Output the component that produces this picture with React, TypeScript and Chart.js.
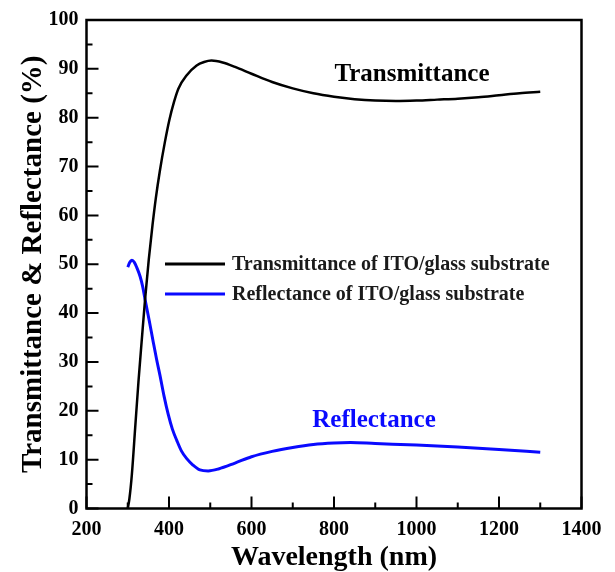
import React, { useEffect, useRef } from "react";
import { Chart, registerables } from "chart.js";

Chart.register(...registerables);

// ---- data ----
const transWavelengths = [300, 304, 310, 318, 326, 334, 342, 351, 360, 368, 378, 390, 401, 412, 423, 443, 467, 485, 503, 530, 560, 600, 650, 700, 750, 800, 850, 900, 950, 1000, 1050, 1100, 1150, 1200, 1250, 1300];
const transValues = [0, 2, 7, 16.5, 26, 34.5, 42.8, 51, 58, 63.5, 69.2, 75, 79.6, 83.2, 86, 88.7, 90.7, 91.4, 91.7, 91.3, 90.4, 89.0, 87.3, 86.0, 85.0, 84.3, 83.8, 83.5, 83.4, 83.5, 83.7, 83.9, 84.2, 84.6, 85.0, 85.3];

const reflWavelengths = [300, 305, 310, 316, 322, 330, 336, 342, 352, 362, 370, 378, 388, 398, 408, 419, 430, 443, 458, 475, 495, 520, 560, 600, 650, 700, 750, 800, 840, 900, 1000, 1100, 1200, 1300];
const reflValues = [49.4, 50.4, 50.8, 50.4, 49.3, 47.5, 45.5, 42.8, 38.5, 34, 30.5, 27.3, 23, 19.3, 16.3, 13.9, 11.8, 10.2, 8.9, 7.9, 7.7, 8.1, 9.3, 10.6, 11.7, 12.5, 13.1, 13.4, 13.5, 13.3, 13.0, 12.6, 12.1, 11.5];

const seriesLabels = ["Transmittance of ITO/glass substrate", "Reflectance of ITO/glass substrate"];
const seriesColors = ["#000000", "#0a0aff"];

const xRange = [200, 1400];
const xStep = 200;
const yRange = [0, 100];
const yStep = 10;

const annotationTexts = ["Transmittance", "Reflectance"];
const annotationX = [989, 897];
const annotationY = [87.6, 16.7];

const FONT = "'Liberation Serif', 'Times New Roman', serif";

const framePlugin = {
  id: "frameTicks",
  afterDatasetsDraw(chart: any) {
    const { ctx, chartArea, scales } = chart;
    const { left, right, top, bottom } = chartArea;
    const x = scales.x;
    const y = scales.y;
    ctx.save();
    ctx.strokeStyle = "#000";
    ctx.lineWidth = 2;
    ctx.lineCap = "butt";
    const xv = x.ticks.map((t: any) => t.value);
    const yv = y.ticks.map((t: any) => t.value);
    ctx.beginPath();
    xv.forEach((v: number) => {
      const p = x.getPixelForValue(v);
      ctx.moveTo(p, bottom);
      ctx.lineTo(p, bottom - 12);
    });
    for (let i = 0; i < xv.length - 1; i++) {
      const p = x.getPixelForValue((xv[i] + xv[i + 1]) / 2);
      ctx.moveTo(p, bottom);
      ctx.lineTo(p, bottom - 6);
    }
    yv.forEach((v: number) => {
      const p = y.getPixelForValue(v);
      ctx.moveTo(left, p);
      ctx.lineTo(left + 12, p);
    });
    for (let i = 0; i < yv.length - 1; i++) {
      const p = y.getPixelForValue((yv[i] + yv[i + 1]) / 2);
      ctx.moveTo(left, p);
      ctx.lineTo(left + 6, p);
    }
    ctx.stroke();
    ctx.lineWidth = 2.5;
    ctx.strokeRect(left, top, right - left, bottom - top);
    ctx.restore();
  },
  afterDraw(chart: any) {
    const { ctx, scales } = chart;
    ctx.save();
    // legend
    const lx0 = 165, lx1 = 225, ly0 = 264, dy = 30;
    chart.data.datasets.forEach((ds: any, i: number) => {
      const yy = ly0 + i * dy;
      ctx.strokeStyle = ds.borderColor;
      ctx.lineWidth = 3;
      ctx.beginPath();
      ctx.moveTo(lx0, yy);
      ctx.lineTo(lx1, yy);
      ctx.stroke();
      ctx.fillStyle = "#1a1a1a";
      ctx.font = `bold 20px ${FONT}`;
      ctx.textAlign = "left";
      ctx.textBaseline = "middle";
      ctx.fillText(ds.label, 232, yy + 1);
    });
    // annotations
    annotationTexts.forEach((t, i) => {
      ctx.fillStyle = seriesColors[i];
      ctx.font = `bold 25px ${FONT}`;
      ctx.textAlign = "center";
      ctx.textBaseline = "alphabetic";
      ctx.fillText(t, scales.x.getPixelForValue(annotationX[i]), scales.y.getPixelForValue(annotationY[i]));
    });
    ctx.restore();
  },
};

export default function App() {
  const ref = useRef<HTMLCanvasElement | null>(null);
  useEffect(() => {
    if (!ref.current) return;
    const chart = new Chart(ref.current, {
      type: "line",
      data: {
        datasets: [
          {
            label: seriesLabels[0],
            data: transWavelengths.map((w, i) => ({ x: w, y: transValues[i] })),
            borderColor: seriesColors[0],
            borderWidth: 2.5,
            pointRadius: 0,
            cubicInterpolationMode: "monotone",
            fill: false,
          },
          {
            label: seriesLabels[1],
            data: reflWavelengths.map((w, i) => ({ x: w, y: reflValues[i] })),
            borderColor: seriesColors[1],
            borderWidth: 3,
            pointRadius: 0,
            cubicInterpolationMode: "monotone",
            fill: false,
          },
        ],
      },
      options: {
        animation: false,
        responsive: false,
        layout: { padding: { left: 0, top: 14, right: 33.5, bottom: 0 } },
        plugins: { legend: { display: false }, tooltip: { enabled: false }, title: { display: false } },
        scales: {
          x: {
            type: "linear",
            min: xRange[0],
            max: xRange[1],
            grid: { display: false, drawTicks: false },
            border: { display: false },
            ticks: { stepSize: xStep, color: "#000", font: { family: FONT, size: 20, weight: "bold" }, padding: 9, maxRotation: 0, callback: (v: any) => String(v) },
            title: { display: true, text: "Wavelength (nm)", color: "#000", font: { family: FONT, size: 28, weight: "bold", lineHeight: 1 }, padding: { top: 0, bottom: 0 } },
            afterFit: (s: any) => { s.height = 63.5; },
          },
          y: {
            type: "linear",
            min: yRange[0],
            max: yRange[1],
            grid: { display: false, drawTicks: false },
            border: { display: false },
            ticks: { stepSize: yStep, color: "#000", font: { family: FONT, size: 20, weight: "bold" }, padding: 8, callback: (v: any) => String(v) },
            title: { display: true, text: "Transmittance & Reflectance (%)", color: "#000", font: { family: FONT, size: 29, weight: "bold", lineHeight: 1 }, padding: { top: 19, bottom: 0 } },
            afterFit: (s: any) => { s.width = 86.5; },
          },
        },
      },
      plugins: [framePlugin],
    } as any);
    return () => chart.destroy();
  }, []);
  return (
    <div style={{ position: "absolute", left: 0, top: 0, width: 615, height: 572, background: "#fff" }}>
      <canvas ref={ref} width={615} height={572} style={{ width: 615, height: 572, display: "block" }} />
    </div>
  );
}
